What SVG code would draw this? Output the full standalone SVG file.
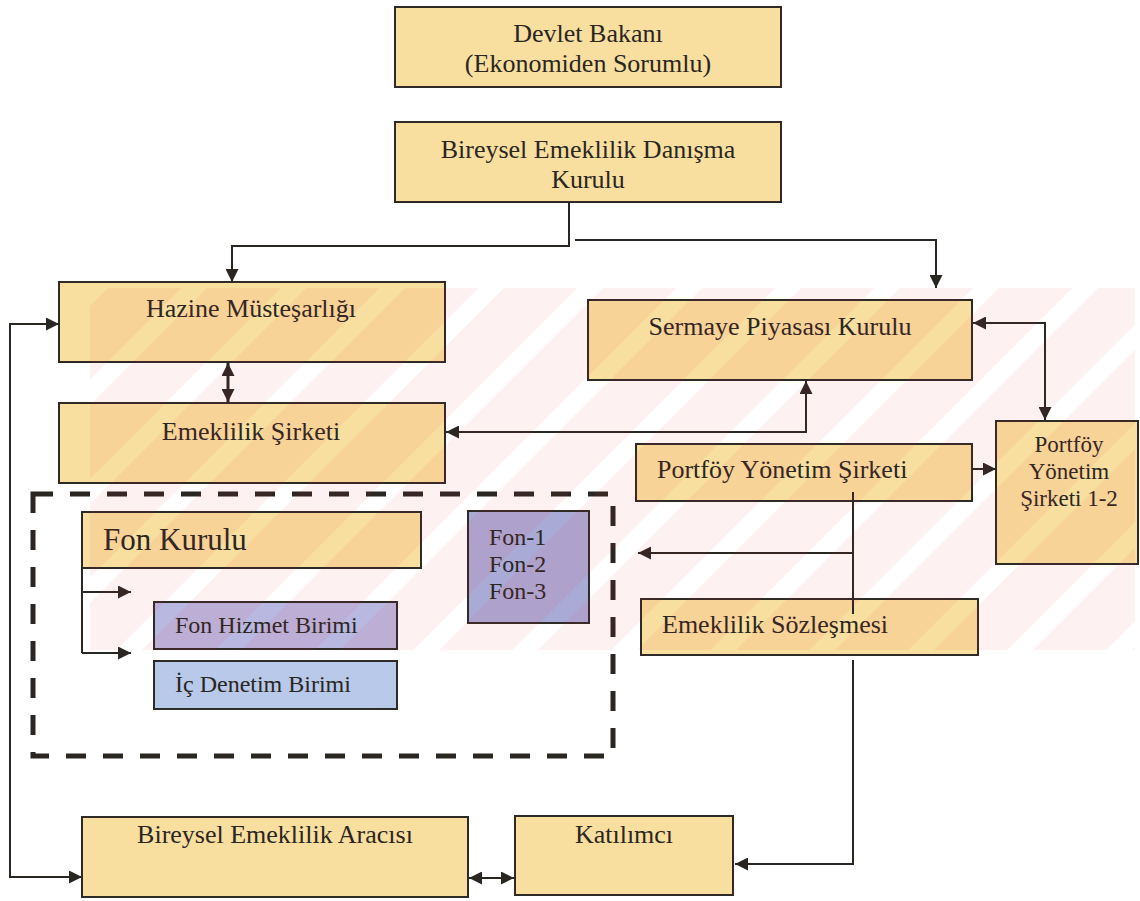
<svg xmlns="http://www.w3.org/2000/svg" width="1140" height="901" viewBox="0 0 1140 901">
<defs>
<style>
.box{fill:#f9df9f;stroke:#2e2a26;stroke-width:2}
.blue1{fill:#b9b8e0;stroke:#2e2a26;stroke-width:2}
.blue2{fill:#b8c9ea;stroke:#2e2a26;stroke-width:2}
.blue3{fill:#aaaad6;stroke:#2e2a26;stroke-width:2}
.t{font-family:"Liberation Serif","Times New Roman",serif;fill:#2a2622;font-size:26px}
.c{text-anchor:middle}
.ln{fill:none;stroke:#2a2622;stroke-width:2}
</style>
<marker id="ah" viewBox="0 0 12 12" refX="12" refY="6" markerWidth="13" markerHeight="13" markerUnits="userSpaceOnUse" orient="auto-start-reverse">
<path d="M0,0 L12,6 L0,12 z" fill="#2a2622"/>
</marker>
<pattern id="stripes" patternUnits="userSpaceOnUse" width="70" height="70" patternTransform="rotate(45)">
<rect x="0" y="0" width="52" height="70" fill="#e8203a"/>
</pattern>
</defs>
<rect x="0" y="0" width="1140" height="901" fill="#ffffff"/>

<g id="node-devlet">
<rect class="box" x="395" y="7" width="386" height="80"/>
<text class="t c" x="588" y="42">Devlet Bakanı</text>
<text class="t c" x="588" y="72">(Ekonomiden Sorumlu)</text>
</g>
<g id="node-danisma">
<rect class="box" x="395" y="122" width="386" height="80"/>
<text class="t c" x="588" y="158">Bireysel Emeklilik Danışma</text>
<text class="t c" x="588" y="188">Kurulu</text>
</g>
<g id="node-hazine">
<rect class="box" x="59" y="282" width="386" height="80"/>
<text class="t c" x="251" y="317">Hazine Müsteşarlığı</text>
</g>
<g id="node-emeklilik-sirketi">
<rect class="box" x="59" y="403" width="386" height="80"/>
<text class="t c" x="251" y="440">Emeklilik Şirketi</text>
</g>
<g id="node-spk">
<rect class="box" x="588" y="300" width="384" height="80"/>
<text class="t c" x="780" y="335">Sermaye Piyasası Kurulu</text>
</g>
<g id="node-pys">
<rect class="box" x="636" y="444" width="336" height="57"/>
<text class="t" x="657" y="478">Portföy Yönetim Şirketi</text>
</g>
<g id="node-pys12">
<rect class="box" x="996" y="421" width="142" height="143"/>
<text class="t c" x="1069" y="452" style="font-size:23px">Portföy</text>
<text class="t c" x="1069" y="479" style="font-size:23px">Yönetim</text>
<text class="t c" x="1069" y="506" style="font-size:23px">Şirketi 1-2</text>
</g>
<g id="node-sozlesme">
<rect class="box" x="641" y="599" width="337" height="56"/>
<text class="t" x="662" y="633">Emeklilik Sözleşmesi</text>
</g>
<g id="node-fon-grubu">
<rect x="33" y="494" width="580" height="262" fill="none" stroke="#2a2622" stroke-width="5" stroke-dasharray="20 17"/>
</g>
<g id="node-fon-kurulu">
<rect class="box" x="82" y="512" width="339" height="56"/>
<text class="t" x="103" y="550" style="font-size:31px">Fon Kurulu</text>
</g>
<g id="node-fonlar">
<rect class="blue3" x="468" y="511" width="121" height="112"/>
<text class="t" x="489" y="545" style="font-size:24px">Fon-1</text>
<text class="t" x="489" y="572" style="font-size:24px">Fon-2</text>
<text class="t" x="489" y="599" style="font-size:24px">Fon-3</text>
</g>
<g id="node-fon-hizmet">
<rect class="blue1" x="154" y="602" width="243" height="47"/>
<text class="t" x="175" y="633" style="font-size:24px">Fon Hizmet Birimi</text>
</g>
<g id="node-ic-denetim">
<rect class="blue2" x="154" y="661" width="243" height="48"/>
<text class="t" x="175" y="692" style="font-size:24px">İç Denetim Birimi</text>
</g>
<g id="node-araci">
<rect class="box" x="82" y="817" width="386" height="80"/>
<text class="t c" x="275" y="843">Bireysel Emeklilik Aracısı</text>
</g>
<g id="node-katilimci">
<rect class="box" x="515" y="816" width="218" height="79"/>
<text class="t c" x="624" y="843">Katılımcı</text>
</g>

<g id="connectors">
<path class="ln" d="M569,202 V246 H232 V282" marker-end="url(#ah)"/>
<path class="ln" d="M575,240 H936 V288" marker-end="url(#ah)"/>
<path class="ln" d="M228,363 V402" style="stroke-width:3" marker-start="url(#ah)" marker-end="url(#ah)"/>
<path class="ln" d="M806,381 V432 H446" marker-start="url(#ah)" marker-end="url(#ah)"/>
<path class="ln" d="M973,323 H1045 V420" marker-start="url(#ah)" marker-end="url(#ah)"/>
<path class="ln" d="M972,469 H996" marker-end="url(#ah)"/>
<path class="ln" d="M853,492 V614"/>
<path class="ln" d="M853,553 H638" marker-end="url(#ah)"/>
<path class="ln" d="M853,660 V864 H735" marker-end="url(#ah)"/>
<path class="ln" d="M469,878 H514" marker-start="url(#ah)" marker-end="url(#ah)"/>
<path class="ln" d="M82,877 H10 V324 H59" marker-start="url(#ah)" marker-end="url(#ah)"/>
<path class="ln" d="M82,568 V653"/>
<path class="ln" d="M82,592 H131" marker-end="url(#ah)"/>
<path class="ln" d="M82,653 H131" marker-end="url(#ah)"/>
</g>

<g id="watermark">
<rect x="90" y="288" width="1045" height="362" fill="url(#stripes)" opacity="0.065"/>
</g>
</svg>
